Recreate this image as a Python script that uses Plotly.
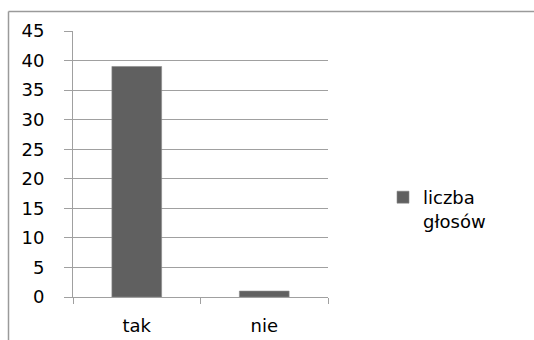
import plotly.graph_objects as go

categories = ["tak", "nie"]
values = [39, 1]
series_name = "liczba<br>głosów"
y_ticks = [0, 5, 10, 15, 20, 25, 30, 35, 40, 45]

W, H = 534, 340
L, R, T, B = 73, 206, 31, 43
pw, ph = W - L - R, H - T - B

def px_x(x):
    return (x - L) / pw

def px_y(y):
    return (H - B - y) / ph

font = dict(family="DejaVu Sans", size=18, color="#000000")
grid = "#a0a0a0"

fig = go.Figure()
fig.add_trace(go.Bar(
    x=categories, y=values, name=series_name,
    marker=dict(color="#606060", line=dict(color="#8a8a8a", width=0.6)),
    width=0.39, showlegend=True,
))

fig.update_layout(
    width=W, height=H,
    margin=dict(l=L, r=R, t=T, b=B, autoexpand=False),
    paper_bgcolor="white", plot_bgcolor="white",
    font=font,
    showlegend=True,
    legend=dict(x=px_x(383), y=px_y(179), xanchor="left", yanchor="top",
                font=font, itemwidth=30, valign="top",
                bgcolor="rgba(0,0,0,0)", tracegroupgap=0),
    xaxis=dict(type="category", range=[-0.5, 1.5], showline=True, linecolor=grid,
               linewidth=1, ticks="outside", ticklen=6, tickcolor=grid,
               tickson="boundaries", showgrid=False, ticklabelstandoff=12,
               tickfont=font, automargin=False),
    yaxis=dict(range=[0, 45], tickvals=y_ticks, showline=True, linecolor=grid,
               linewidth=1, ticks="outside", ticklen=8, tickcolor=grid,
               showgrid=True, gridcolor=grid, gridwidth=1, zeroline=False,
               ticklabelstandoff=16, tickfont=font, automargin=False),
    shapes=[
        dict(type="line", xref="paper", yref="paper",
             x0=px_x(8.5), x1=px_x(534), y0=px_y(11.5), y1=px_y(11.5),
             line=dict(color="#9a9a9a", width=1.5)),
        dict(type="line", xref="paper", yref="paper",
             x0=px_x(8.5), x1=px_x(8.5), y0=px_y(11.5), y1=px_y(340),
             line=dict(color="#9a9a9a", width=1.5)),
    ],
)

fig.write_html("out.html")
